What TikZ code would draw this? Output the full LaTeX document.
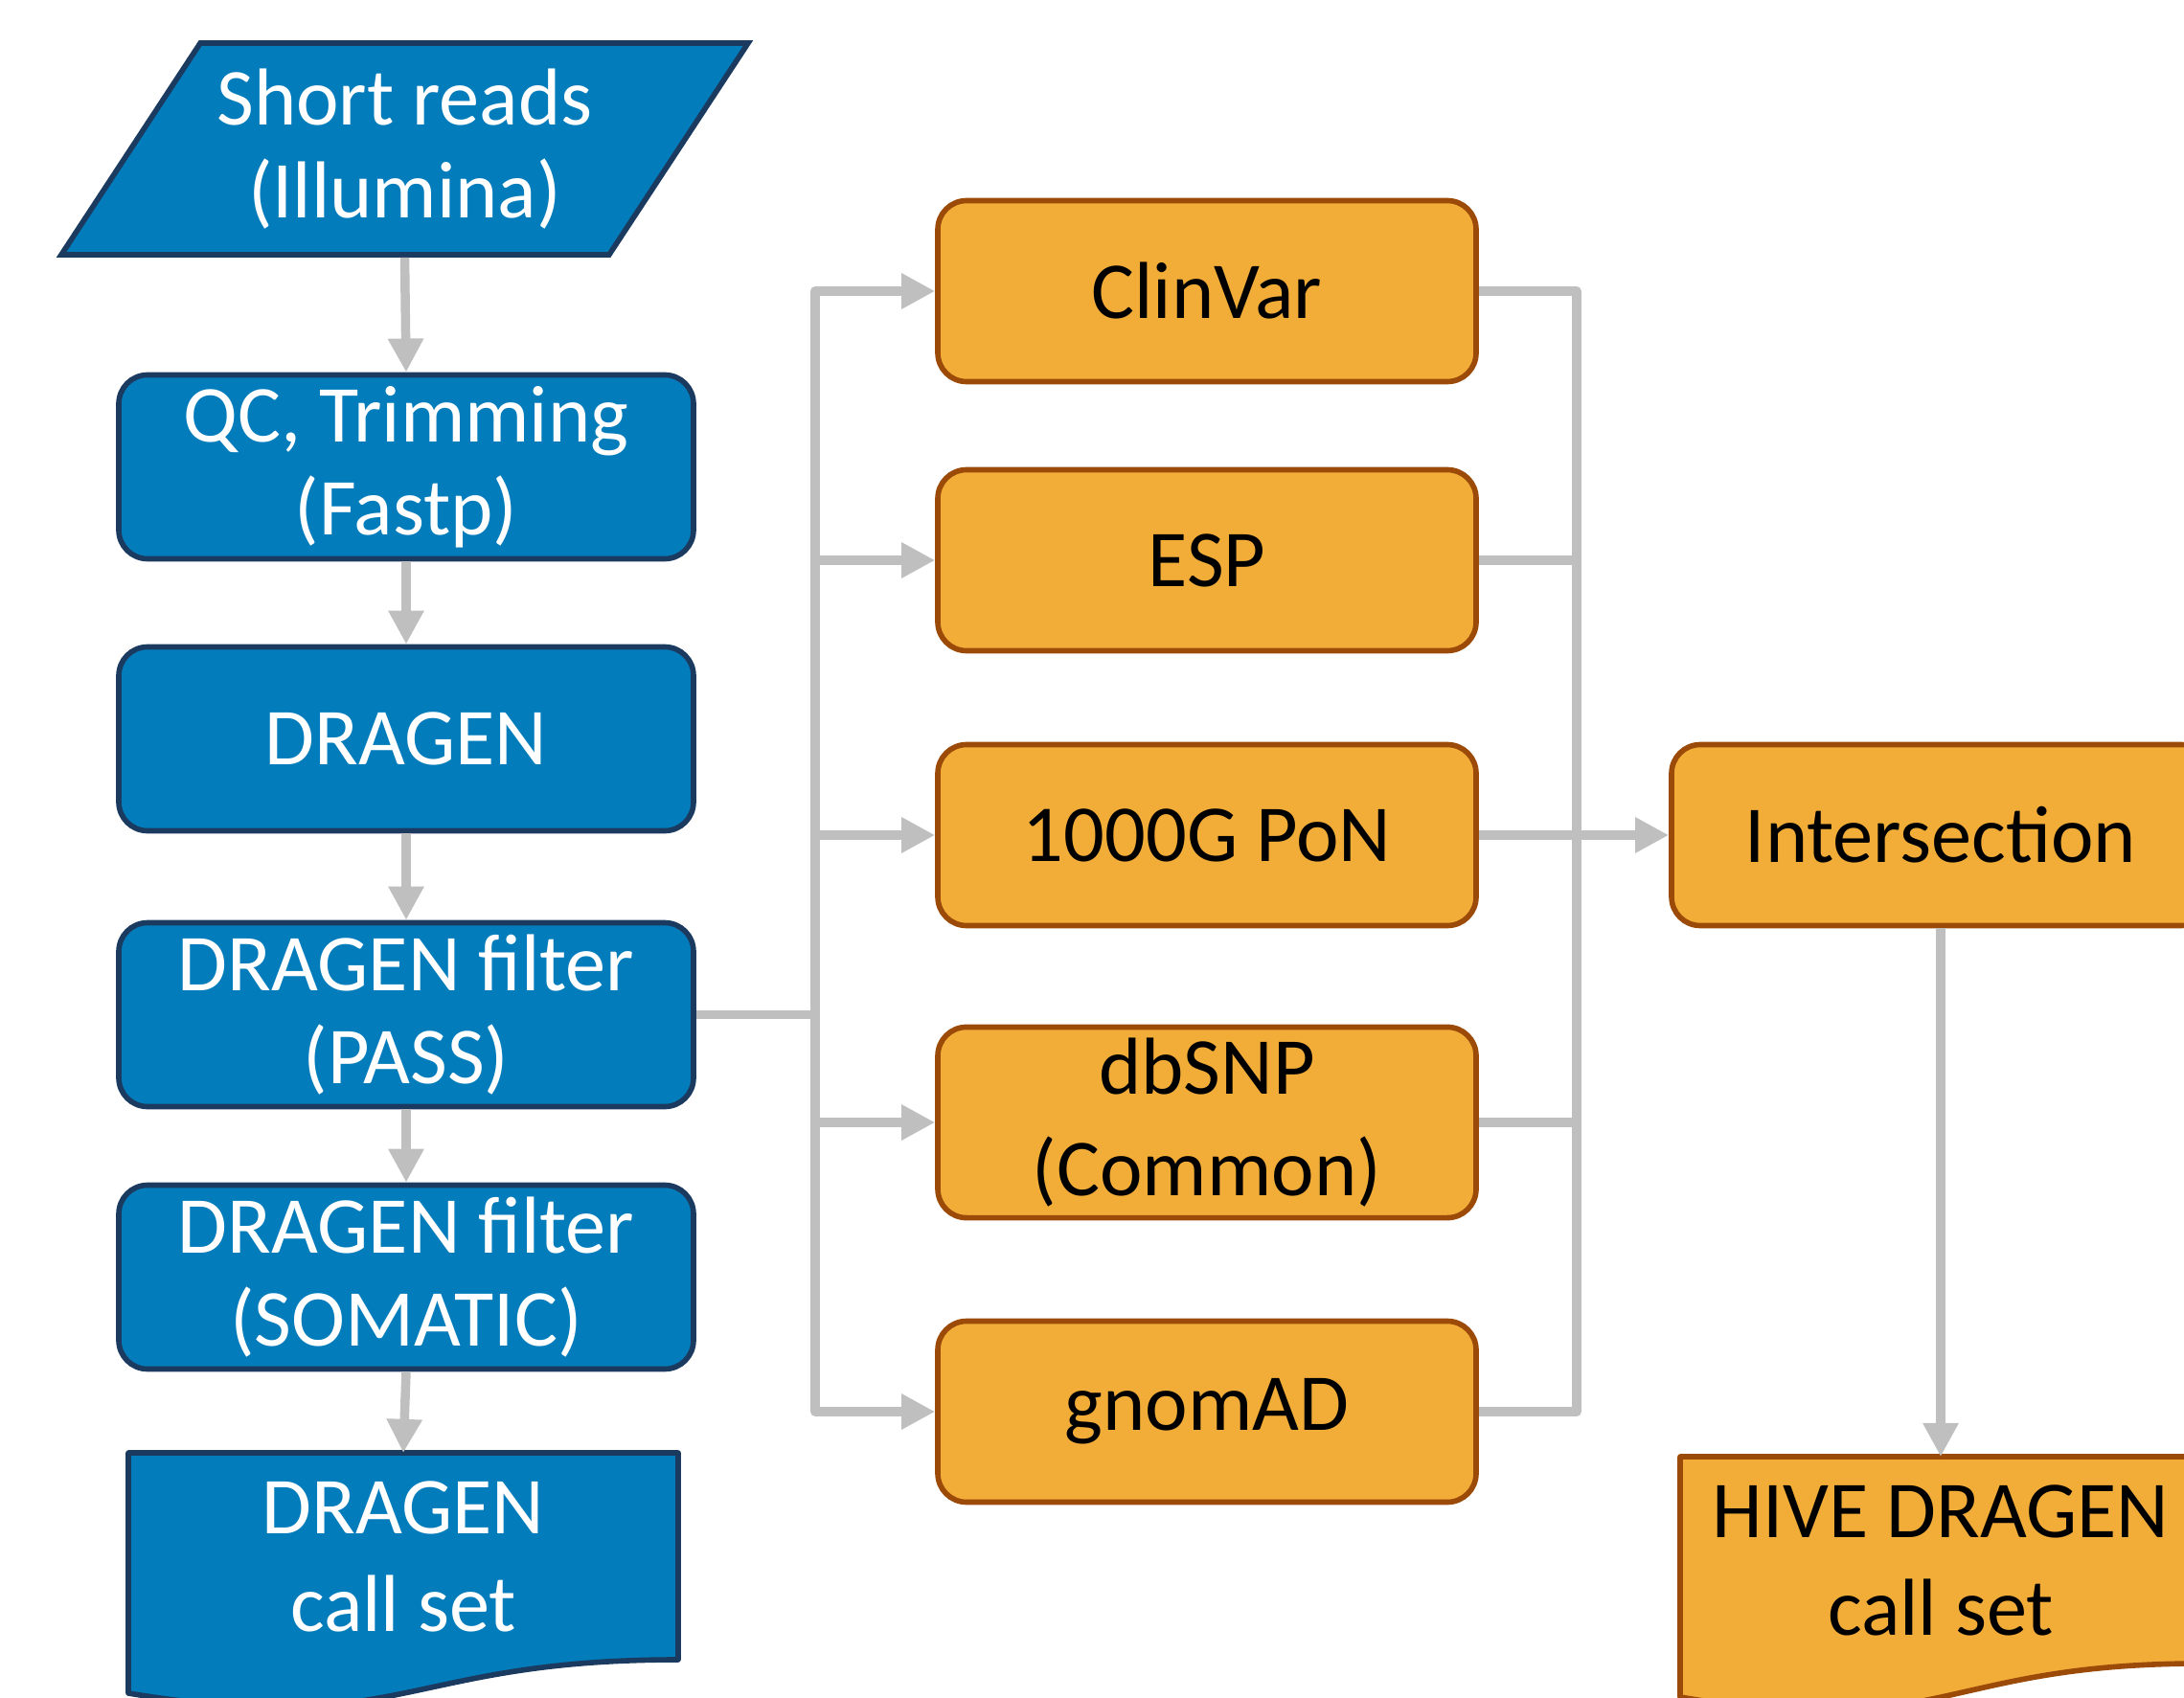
\documentclass[tikz,border=0pt]{standalone}
\usepackage{fontspec}
\setmainfont{Carlito}
\usetikzlibrary{arrows.meta, positioning, calc, backgrounds, shapes.geometric}
\definecolor{stepBlue}{HTML}{037CBB}
\definecolor{stepBlueLine}{HTML}{1B3A60}
\definecolor{dbOrange}{HTML}{F2AC38}
\definecolor{dbOrangeLine}{HTML}{9C4A08}
\definecolor{linkGrey}{HTML}{BFBFBF}

\begin{document}
\begin{tikzpicture}[
    bluebox/.style={
        rectangle,
        rounded corners=3mm,
        draw=stepBlueLine,
        fill=stepBlue,
        minimum width=6.0cm,
        minimum height=1.92cm,
        align=center,
        text=white,
        line width=1.6pt,
        font=\fontsize{24}{27.5}\selectfont
    },
    inputbox/.style={
        trapezium,
        trapezium left angle=49,
        trapezium right angle=131,
        trapezium stretches body,
        draw=stepBlueLine,
        fill=stepBlue,
        minimum width=7.17cm,
        minimum height=2.21cm,
        inner sep=0pt,
        align=center,
        text=white,
        line width=1.6pt,
        font=\fontsize{24}{27.5}\selectfont
    },
    dbbox/.style={
        rectangle,
        rounded corners=3mm,
        draw=dbOrangeLine,
        fill=dbOrange,
        minimum width=5.62cm,
        minimum height=1.89cm,
        align=center,
        text=black,
        line width=1.6pt,
        font=\fontsize{24}{30}\selectfont
    },
    docbox/.style={
        rectangle,
        minimum width=5.74cm,
        minimum height=2.16cm,
        inner sep=0pt,
        outer sep=0pt,
        align=center,
        font=\fontsize{24}{29}\selectfont
    },
    docline/.style={
        line width=1.6pt,
        line join=round
    },
    link/.style={
        draw=linkGrey,
        line width=2.7pt,
        line join=round
    },
    arrow/.style={
        link,
        -{Triangle[length=10pt,width=10pt]}
    }
]
\useasboundingbox (0,0) rectangle (22.8,-17.73);

% Left column
\node[inputbox] (reads) at (4.225,-1.555) {Short reads\\(Illumina)};
\node[bluebox] (qc) at (4.24,-4.875) {QC, Trimming\\(Fastp)};
\node[bluebox] (dragen) at (4.24,-7.715) {DRAGEN};
\node[bluebox] (pass) at (4.24,-10.595) {DRAGEN filter\\(PASS)};
\node[bluebox] (somatic) at (4.24,-13.335) {DRAGEN filter\\(SOMATIC)};
\node[docbox, text=white] (callset) at (4.21,-16.25) {DRAGEN\\call set};

% Databases
\node[dbbox] (clinvar) at (12.6,-3.04) {ClinVar};
\node[dbbox] (esp) at (12.6,-5.85) {ESP};
\node[dbbox] (pon) at (12.6,-8.72) {1000G PoN};
\node[dbbox] (dbsnp) at (12.6,-11.72) {dbSNP\\(Common)};
\node[dbbox] (gnomad) at (12.6,-14.74) {gnomAD};

% Right column
\node[dbbox] (intersect) at (20.26,-8.72) {Intersection};
\node[docbox, minimum width=5.44cm, text=black] (hive) at (20.26,-16.29) {HIVE DRAGEN\\call set};

% Document shapes behind the call sets
\begin{scope}[on background layer]
\draw[docline, draw=stepBlueLine, fill=stepBlue] (callset.north west) -- (callset.north east) -- (callset.south east)
    .. controls (callset.south) and ($(callset.south)+(0,-0.82)$) .. ($(callset.south west)+(0,-0.35)$) -- cycle;
\draw[docline, draw=dbOrangeLine, fill=dbOrange] (hive.north west) -- (hive.north east) -- (hive.south east)
    .. controls (hive.south) and ($(hive.south)+(0,-0.82)$) .. ($(hive.south west)+(0,-0.35)$) -- cycle;
\end{scope}

% Branch points
\coordinate[right=1.24cm of pass.east] (split);
\coordinate[right=1.02cm of pon.east] (merge);

% Arrows down the left column
\draw[arrow] (reads.south) -- (qc.north);
\draw[arrow] (qc.south) -- (dragen.north);
\draw[arrow] (dragen.south) -- (pass.north);
\draw[arrow] (pass.south) -- (somatic.north);
\draw[arrow] (somatic.south) -- (callset.north);

% Fan out to databases
\draw[link] (pass.east) -- (split);
\draw[arrow] (split) |- (clinvar.west);
\draw[arrow] (split) |- (esp.west);
\draw[arrow] (split) |- (pon.west);
\draw[arrow] (split) |- (dbsnp.west);
\draw[arrow] (split) |- (gnomad.west);

% Merge into intersection
\draw[link] (clinvar.east) -| (merge);
\draw[link] (esp.east) -| (merge);
\draw[link] (dbsnp.east) -| (merge);
\draw[link] (gnomad.east) -| (merge);
\draw[arrow] (pon.east) -- (intersect.west);

\draw[arrow] (intersect.south) -- (hive.north);

\end{tikzpicture}
\end{document}
